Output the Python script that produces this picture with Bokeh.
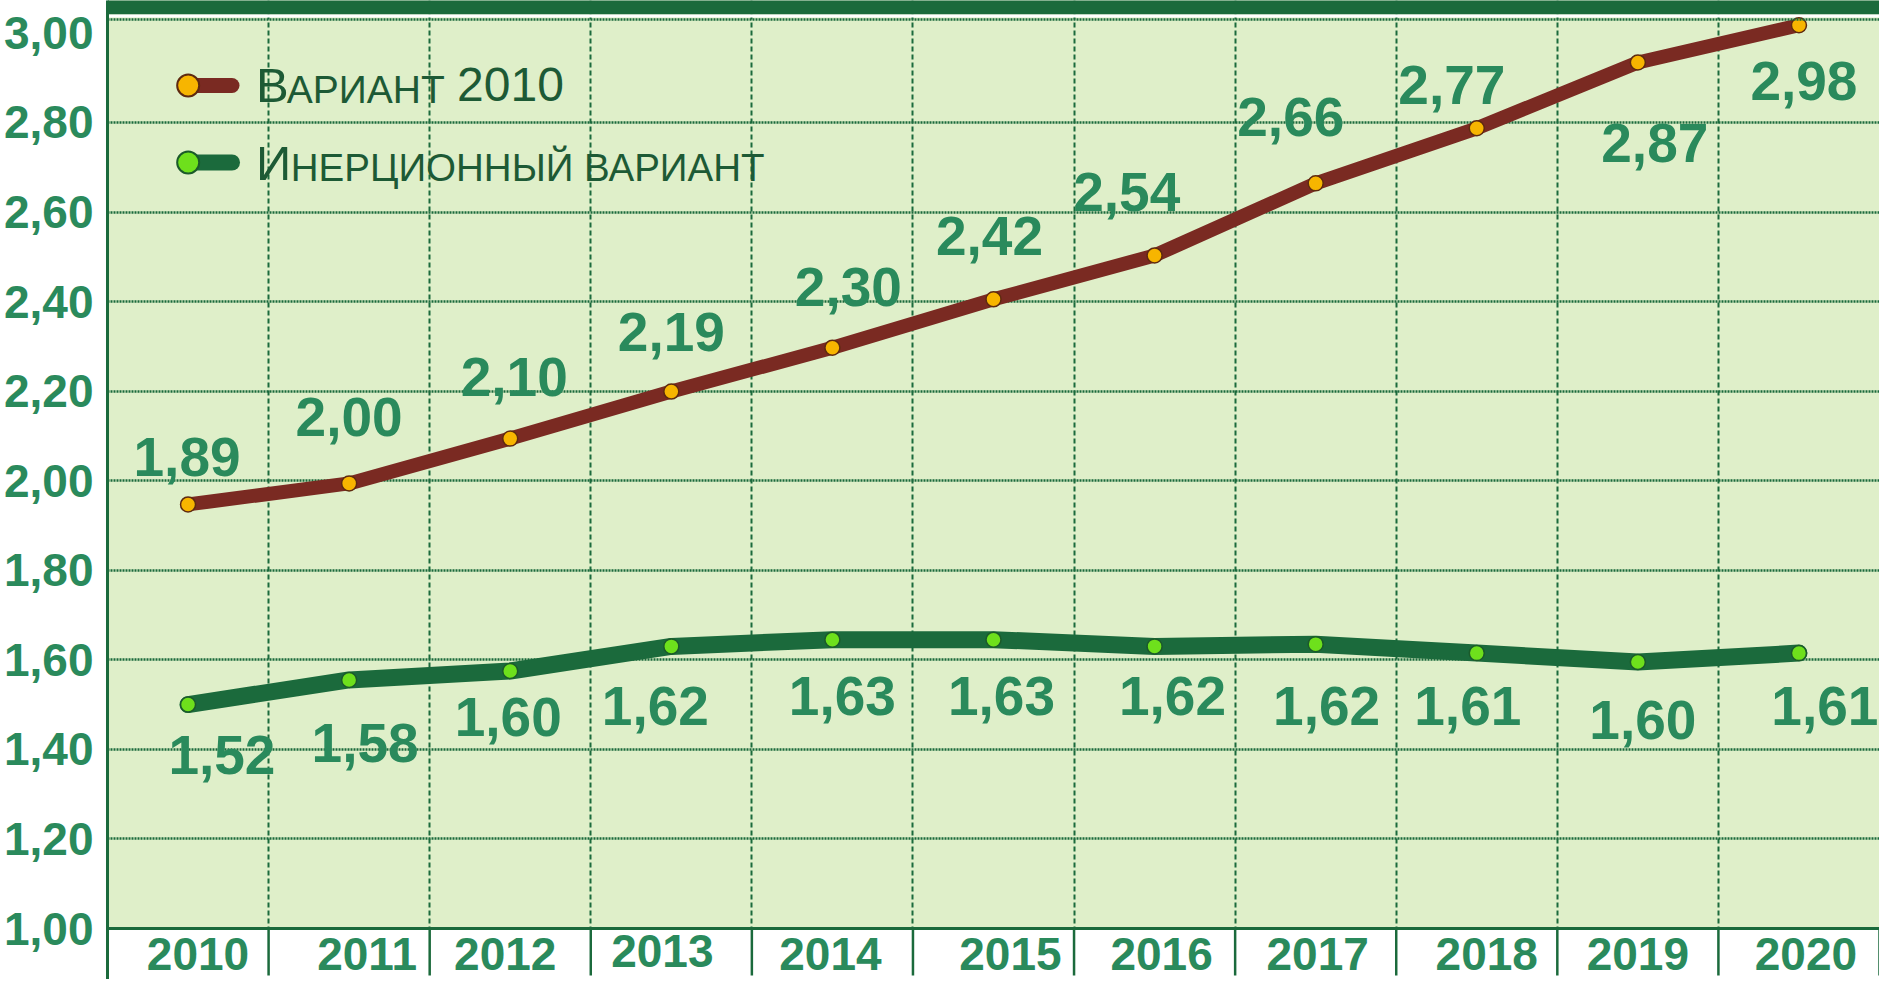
from bokeh.plotting import figure
from bokeh.models import FixedTicker, Range1d, Span
from bokeh.embed import file_html
from bokeh.resources import INLINE
from bokeh.core.properties import value

# ---------------- data ----------------
years = [2010, 2011, 2012, 2013, 2014, 2015, 2016, 2017, 2018, 2019, 2020]
variant_2010 = [1.947, 1.994, 2.094, 2.199, 2.297, 2.405, 2.503, 2.664, 2.787, 2.934, 3.017]
variant_2010_labels = ["1,89", "2,00", "2,10", "2,19", "2,30", "2,42", "2,54", "2,66", "2,77", "2,87", "2,98"]
inertial = [1.50, 1.555, 1.575, 1.63, 1.645, 1.645, 1.63, 1.635, 1.615, 1.595, 1.615]
inertial_labels = ["1,52", "1,58", "1,60", "1,62", "1,63", "1,63", "1,62", "1,62", "1,61", "1,60", "1,61"]
y_ticks = [1.0, 1.2, 1.4, 1.6, 1.8, 2.0, 2.2, 2.4, 2.6, 2.8, 3.0]
y_tick_labels = ["1,00", "1,20", "1,40", "1,60", "1,80", "2,00", "2,20", "2,40", "2,60", "2,80", "3,00"]
year_labels = [str(y) for y in years]
legend_1 = ("В", "АРИАНТ", "2010")
legend_2 = ("И", "НЕРЦИОННЫЙ ВАРИАНТ")

# ---------------- layout / style ----------------
W, H = 1879, 979
LEFT = 100
TOP_OFF = 0            # page y of the figure top
FRAME_W = W - LEFT
PX_X = FRAME_W / 11.0
PX_Y = 447.8
AXIS_PY = 928          # page y of the 1,00 line
X0, X1 = years[0] - 0.5, years[-1] + 0.5
Y_BASE = y_ticks[0]
Y0 = Y_BASE - (TOP_OFF + H - AXIS_PY) / PX_Y
Y1 = Y_BASE + (AXIS_PY - TOP_OFF) / PX_Y

def sx(px):
    return X0 + (px - 8 - LEFT) / PX_X

def sy(py):
    return Y_BASE + (AXIS_PY - py) / PX_Y

# label offsets in pixels (dx right, dy down)
v_dx = [-1, 0, 4, 0, 16, -4, -28, -25, -25, 17, 5]
v_dy = [-47, -66, -62, -60, -61, -63, -63, -66, -43, 81, 56]
i_dx = [34, 16, -2, -16, 10, 8, 18, 11, -9, 5, 26]
i_dy = [50, 63, 46, 60, 56, 56, 50, 62, 53, 58, 53]
yl_dx = [10, 18, -5, -9, -2, 17, 7, 2, 10, 0, 7]
yl_dy = [0, 0, 0, -3, 0, 0, 0, 0, 0, 0, 0]

BG = "#dfefc9"
DARK = "#1b6a3c"
LABEL = "#2a8a5c"
BROWN = "#7a2a22"
ORANGE = "#f7b500"
LIME = "#6ee01c"
FONT = "Liberation Sans"

p = figure(width=W, height=H, output_backend="svg", toolbar_location=None,
           x_range=Range1d(X0, X1), y_range=Range1d(Y0, Y1),
           min_border_left=LEFT, min_border_right=0, min_border_top=0,
           min_border_bottom=0)
p.background_fill_color = BG
p.border_fill_color = "white"
p.outline_line_color = None
p.xaxis.visible = False

# grid
p.ygrid.ticker = FixedTicker(ticks=y_ticks[1:-1])
p.ygrid.grid_line_color = DARK
p.ygrid.grid_line_width = 2.5
p.ygrid.grid_line_dash = "2 1"
bounds = [y + 0.5 for y in years[:-1]]
p.xgrid.ticker = FixedTicker(ticks=bounds)
p.xgrid.grid_line_color = DARK
p.xgrid.grid_line_width = 2
p.xgrid.grid_line_dash = "5 3"

# y axis
ya = p.yaxis[0]
ya.ticker = FixedTicker(ticks=y_ticks)
ya.major_label_overrides = {t: l for t, l in zip(y_ticks, y_tick_labels)}
ya.major_label_text_font = FONT
ya.major_label_text_font_style = "bold"
ya.major_label_text_font_size = "46px"
ya.major_label_text_color = LABEL
ya.major_label_standoff = 14
ya.major_tick_out = 0
ya.major_tick_in = 0
ya.minor_tick_out = 0
ya.minor_tick_in = 0
ya.axis_line_color = DARK
ya.axis_line_width = 3

# category strip below the 1,00 line
p.quad(left=[X0], right=[X1], bottom=[Y0 - 1], top=[Y_BASE], fill_color="white", line_color=None)
p.segment(x0=bounds + [X1], y0=[Y_BASE] * (len(bounds) + 1), x1=bounds + [X1],
          y1=[sy(975)] * (len(bounds) + 1), line_color=DARK, line_width=2.5)
p.segment(x0=[X0], y0=[Y_BASE], x1=[X1], y1=[Y_BASE], line_color=DARK, line_width=3)
p.text(x=[y + d / PX_X for y, d in zip(years, yl_dx)],
       y=[sy(953 + d) for d in yl_dy], text=year_labels, text_font=value(FONT),
       text_font_style="bold", text_font_size="46px", text_color=LABEL,
       text_align="center", text_baseline="middle")

# top band
p.quad(left=[X0], right=[X1], bottom=[sy(14)], top=[Y1 + 1], fill_color=DARK, line_color=None)
p.quad(left=[X0], right=[X1], bottom=[sy(17)], top=[sy(14)], fill_color="white", line_color=None)
p.add_layout(Span(location=sy(19), dimension="width", line_color=DARK, line_width=2.5, line_dash="2 1"))

# series
p.line(years, inertial, line_color=DARK, line_width=17, line_join="round", line_cap="round")
p.scatter(years, inertial, size=15, fill_color=LIME, line_color="#1b5a2a", line_width=1.5)
p.line(years, variant_2010, line_color=BROWN, line_width=14, line_join="round", line_cap="round")
p.scatter(years, variant_2010, size=15, fill_color=ORANGE, line_color="#5e2a10", line_width=1.5)

# value labels
p.text(x=[y + d / PX_X for y, d in zip(years, v_dx)],
       y=[v - d / PX_Y for v, d in zip(variant_2010, v_dy)],
       text=variant_2010_labels, text_font=value(FONT), text_font_style="bold",
       text_font_size="55px", text_color=LABEL, text_align="center", text_baseline="middle")
p.text(x=[y + d / PX_X for y, d in zip(years, i_dx)],
       y=[v - d / PX_Y for v, d in zip(inertial, i_dy)],
       text=inertial_labels, text_font=value(FONT), text_font_style="bold",
       text_font_size="55px", text_color=LABEL, text_align="center", text_baseline="middle")

# legend (drawn)
LEG = "#1d5a35"
for gy, lc, fc, oc, lw in [(85, BROWN, ORANGE, "#5e2a10", 15), (162, DARK, LIME, "#1b5a2a", 16)]:
    p.segment(x0=[sx(190)], y0=[sy(gy)], x1=[sx(233)], y1=[sy(gy)], line_color=lc,
              line_width=lw, line_cap="round")
    p.scatter([sx(189)], [sy(gy)], size=22, fill_color=fc, line_color=oc, line_width=2)

def leg_text(px, py, s, size):
    p.text(x=[sx(px)], y=[sy(py)], text=[s], text_font=value(FONT),
           text_font_size=size, text_color=LEG, text_baseline="middle")

leg_text(257, 84, legend_1[0], "49px")
leg_text(288, 89, legend_1[1], "39px")
leg_text(459, 84, legend_1[2], "48px")
leg_text(257, 162, legend_2[0], "49px")
leg_text(292, 167, legend_2[1], "38.5px")

open("out.html", "w").write(file_html(p, INLINE))
